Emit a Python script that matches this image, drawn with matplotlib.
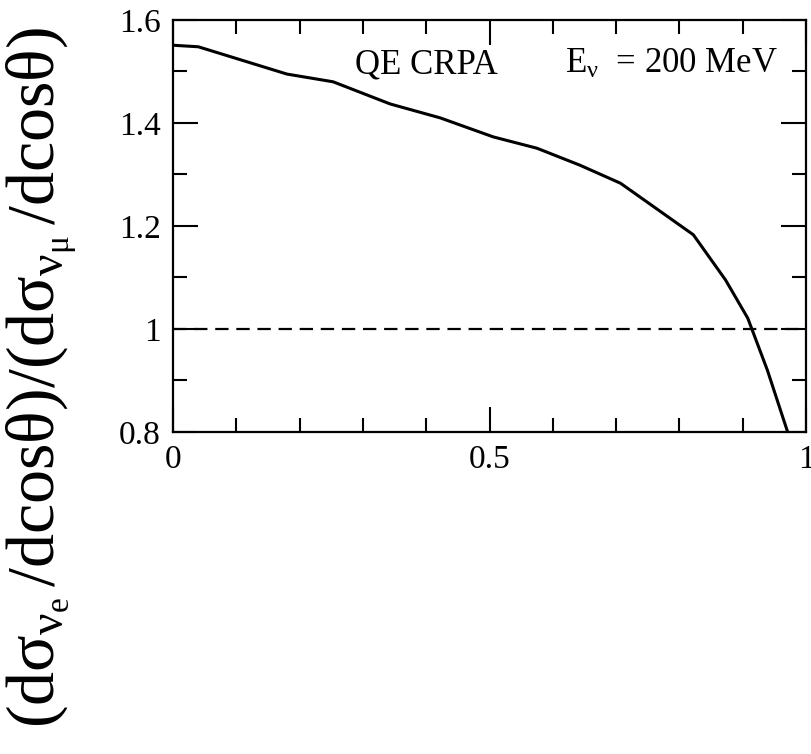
import matplotlib
matplotlib.use("Agg")
import matplotlib.pyplot as plt
from matplotlib.ticker import MultipleLocator, FixedLocator, FixedFormatter

plt.rcParams['font.family'] = ['Liberation Serif', 'DejaVu Serif']
plt.rcParams['mathtext.fontset'] = 'custom'
plt.rcParams['mathtext.rm'] = 'Liberation Serif'
plt.rcParams['mathtext.it'] = 'Liberation Serif:italic'
plt.rcParams['mathtext.bf'] = 'Liberation Serif:bold'

# data
cos_theta = [0.0, 0.040, 0.180, 0.253, 0.343, 0.422, 0.506, 0.575, 0.643,
             0.707, 0.822, 0.873, 0.908, 0.939, 0.971]
ratio = [1.551, 1.548, 1.495, 1.480, 1.437, 1.410, 1.373, 1.351, 1.318,
         1.283, 1.183, 1.095, 1.021, 0.920, 0.800]
ref_x = [0.0, 1.0]
ref_y = [1.0, 1.0]
x_ticks = [0, 0.5, 1]
x_labels = ['0', '0.5', '1']
y_ticks = [0.8, 1.0, 1.2, 1.4, 1.6]
y_labels = ['0.8', '1', '1.2', '1.4', '1.6']

W, H = 811, 754
fig = plt.figure(figsize=(W / 100, H / 100), dpi=100)
ax = fig.add_axes([173 / W, 1 - 432 / H, (806 - 173) / W, (432 - 20) / H])

ax.plot(cos_theta, ratio, color='black', lw=2.2, solid_joinstyle='round')
ax.plot(ref_x, ref_y, color='black', lw=1.6, linestyle=(0, (6, 3.5)))

ax.set_xlim(0, 1)
ax.set_ylim(0.8, 1.6)
ax.xaxis.set_major_locator(FixedLocator(x_ticks))
ax.xaxis.set_major_formatter(FixedFormatter(x_labels))
ax.xaxis.set_minor_locator(MultipleLocator(0.1))
ax.yaxis.set_major_locator(FixedLocator(y_ticks))
ax.yaxis.set_major_formatter(FixedFormatter(y_labels))
ax.yaxis.set_minor_locator(MultipleLocator(0.1))

ax.tick_params(which='both', direction='in', top=True, right=True,
               width=1.5, labelsize=24, colors='black')
ax.tick_params(which='major', length=18, pad=9)
ax.tick_params(which='minor', length=10)
for s in ax.spines.values():
    s.set_linewidth(1.6)

ax.text(0.288, 1.513, 'QE CRPA', fontsize=25, va='center', ha='left')
ax.text(0.62, 1.513, r'E$_{\mathrm{ν}}$  = 200 MeV', fontsize=25, va='center', ha='left')

fig.text(42 / W, 0.5,
         r'$\mathrm{(dσ}_{\mathrm{ν}_{\mathrm{e}}}\,\mathrm{/dcosθ)/(dσ}_{\mathrm{ν}_{\mathrm{μ}}}\,\mathrm{/dcosθ)}$',
         rotation=90, fontsize=49, ha='center', va='center')

fig.savefig('out.png', dpi=100)
